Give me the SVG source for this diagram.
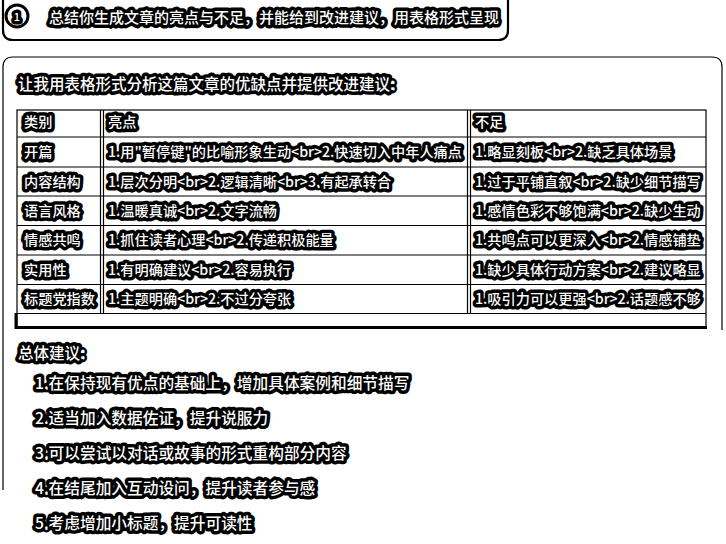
<svg xmlns="http://www.w3.org/2000/svg" width="726" height="544" viewBox="0 0 726 544">
<style>
.t{font-family:"Noto Sans CJK SC","Noto Sans",sans-serif;font-weight:500;fill:#fff;stroke:#000;stroke-width:7;stroke-linejoin:round;paint-order:stroke;}
.f14{font-size:14.2px;}
.f15{font-size:15px;}
.f155{font-size:15.5px;}
.f16{font-size:15.7px;}
.ln{stroke:#000;stroke-width:1.2;fill:none;}
</style>
<defs>
<clipPath id="tclip"><rect x="16" y="108" width="690" height="222"/></clipPath>
</defs>
<rect width="726" height="544" fill="#fff"/>

<g id="question">
<path d="M3,0 V30 Q3,40 13,40 H498 Q508,40 508,30 V0" fill="none" stroke="#000" stroke-width="2.2"/>
<circle cx="17" cy="16" r="11" fill="#fff" stroke="#000" stroke-width="3"/>
<text class="t" x="17" y="20.5" font-size="11" font-weight="bold" text-anchor="middle" stroke-width="2.5">1</text>
<text class="t f15" x="49" y="23">总结你生成文章的亮点与不足，并能给到改进建议，用表格形式呈现</text>
</g>

<g id="answer-frame">
<path d="M3,490 V67 Q3,57 13,57 H712 Q722,57 722,67 V330" class="ln"/>
</g>

<g id="intro">
<text class="t f155" x="18" y="90">让我用表格形式分析这篇文章的优缺点并提供改进建议:</text>
</g>

<g id="table">
<g id="table-grid">
<rect x="17" y="110" width="689" height="218" class="ln"/>
<line x1="17" y1="137" x2="706" y2="137" class="ln"/>
<line x1="17" y1="167" x2="706" y2="167" class="ln"/>
<line x1="17" y1="196" x2="706" y2="196" class="ln"/>
<line x1="17" y1="225.5" x2="706" y2="225.5" class="ln"/>
<line x1="17" y1="255" x2="706" y2="255" class="ln"/>
<line x1="17" y1="284.5" x2="706" y2="284.5" class="ln"/>
<line x1="17" y1="313.5" x2="706" y2="313.5" class="ln"/>
<line x1="100.5" y1="110" x2="100.5" y2="313.5" class="ln"/>
<line x1="103.5" y1="110" x2="103.5" y2="313.5" class="ln"/>
<line x1="467.5" y1="110" x2="467.5" y2="313.5" class="ln"/>
<line x1="470.5" y1="110" x2="470.5" y2="313.5" class="ln"/>
<line x1="16" y1="327.5" x2="707" y2="327.5" stroke="#000" stroke-width="3"/>
<line x1="16" y1="313" x2="16" y2="329" stroke="#000" stroke-width="3"/>
</g>
<g id="table-text" clip-path="url(#tclip)">
<text class="t f14" x="24" y="127">类别</text>
<text class="t f14" x="108" y="127">亮点</text>
<text class="t f14" x="475" y="127">不足</text>

<text class="t f14" x="24" y="157">开篇</text>
<text class="t f14" x="108" y="157">1.用"暂停键"的比喻形象生动&lt;br&gt;2.快速切入中年人痛点</text>
<text class="t f14" x="475" y="157">1.略显刻板&lt;br&gt;2.缺乏具体场景</text>

<text class="t f14" x="24" y="187">内容结构</text>
<text class="t f14" x="108" y="187">1.层次分明&lt;br&gt;2.逻辑清晰&lt;br&gt;3.有起承转合</text>
<text class="t f14" x="475" y="187">1.过于平铺直叙&lt;br&gt;2.缺少细节描写</text>

<text class="t f14" x="24" y="216">语言风格</text>
<text class="t f14" x="108" y="216">1.温暖真诚&lt;br&gt;2.文字流畅</text>
<text class="t f14" x="475" y="216">1.感情色彩不够饱满&lt;br&gt;2.缺少生动</text>

<text class="t f14" x="24" y="245">情感共鸣</text>
<text class="t f14" x="108" y="245">1.抓住读者心理&lt;br&gt;2.传递积极能量</text>
<text class="t f14" x="475" y="245">1.共鸣点可以更深入&lt;br&gt;2.情感铺垫</text>

<text class="t f14" x="24" y="275">实用性</text>
<text class="t f14" x="108" y="275">1.有明确建议&lt;br&gt;2.容易执行</text>
<text class="t f14" x="475" y="275">1.缺少具体行动方案&lt;br&gt;2.建议略显</text>

<text class="t f14" x="24" y="304">标题党指数</text>
<text class="t f14" x="108" y="304">1.主题明确&lt;br&gt;2.不过分夸张</text>
<text class="t f14" x="475" y="304">1.吸引力可以更强&lt;br&gt;2.话题感不够</text>
</g>
</g>

<g id="summary">
<text class="t f155" x="18" y="359">总体建议:</text>
<text class="t f16" x="35" y="389">1.在保持现有优点的基础上，增加具体案例和细节描写</text>
<text class="t f16" x="35" y="424">2.适当加入数据佐证，提升说服力</text>
<text class="t f16" x="35" y="459">3.可以尝试以对话或故事的形式重构部分内容</text>
<text class="t f16" x="35" y="494">4.在结尾加入互动设问，提升读者参与感</text>
<text class="t f16" x="35" y="529">5.考虑增加小标题，提升可读性</text>
</g>
</svg>
